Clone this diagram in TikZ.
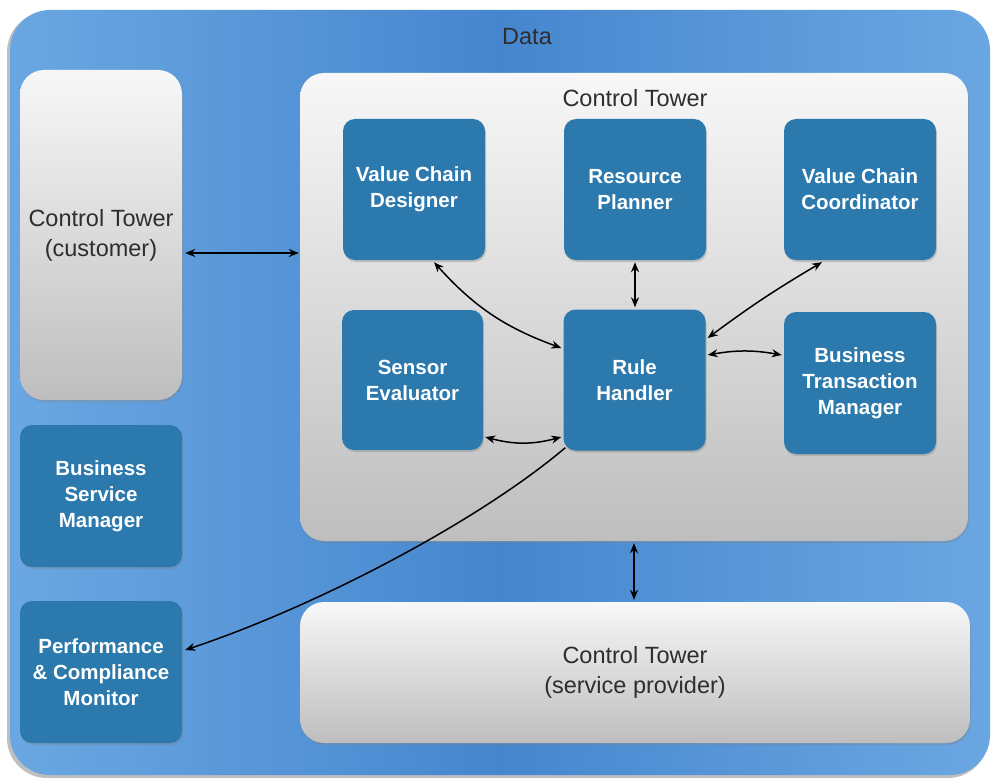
\documentclass[tikz,border=0pt]{standalone}
\usepackage{fontspec}
\setmainfont{Liberation Sans}
\usetikzlibrary{arrows.meta,shadows,calc}
\definecolor{boxblue}{HTML}{2B79AD}
\definecolor{outerL}{HTML}{6AA7E2}
\definecolor{outerM}{HTML}{4686CE}
\definecolor{ctgray}{HTML}{BEBEBE}
\definecolor{txtgray}{HTML}{2E2E2E}
\tikzset{
  bluebox/.style={rounded corners=12pt, fill=boxblue, text=white, align=center,
    font=\bfseries\fontsize{20.5}{26}\selectfont, inner sep=0pt,
    drop shadow={opacity=0.35, shadow xshift=1pt, shadow yshift=-2pt}},
  graybox/.style={rounded corners=24pt, top color=white!97!black, bottom color=ctgray,
    draw=none, text=txtgray, align=center, font=\fontsize{23.5}{30}\selectfont, inner sep=0pt,
    drop shadow={opacity=0.35, shadow xshift=1pt, shadow yshift=-2pt}},
  arr/.style={{Stealth[length=10pt,width=8pt]}-{Stealth[length=10pt,width=8pt]}, line width=1.5pt, black},
  arrone/.style={-{Stealth[length=10pt,width=8pt]}, line width=1.5pt, black},
  lbl/.style={text=txtgray, font=\fontsize{23.5}{28}\selectfont}
}
\begin{document}
\begin{tikzpicture}[x=1pt,y=-1pt]
\useasboundingbox (0,0) rectangle (992,778);
% outer data area
\fill[black!25, rounded corners=40pt] (7,12) rectangle (988,778);
\shade[rounded corners=40pt, left color=outerL, right color=outerL, middle color=outerM] (10,10) rectangle (990,775);
\node[lbl] (data) at (527,37) {Data};

% gray containers
\node[graybox, minimum width=162pt, minimum height=330pt] (cust) at (101,235) {Control Tower\\(customer)};
\node[graybox, minimum width=668pt, minimum height=468pt] (ct) at (634,307) {};
\node[lbl] (cttitle) at (635,98) {Control Tower};
\node[graybox, minimum width=670pt, minimum height=141pt] (sp) at (635,672.5) {Control Tower\\(service provider)};

% blue boxes
\node[bluebox, minimum width=142pt, minimum height=141pt] (vcd) at (414,189.5) {Value Chain\\Designer};
\node[bluebox, minimum width=142pt, minimum height=141pt] (rp) at (635,189.5) {Resource\\Planner};
\node[bluebox, minimum width=152pt, minimum height=141pt] (vcc) at (860,189.5) {Value Chain\\Coordinator};
\node[bluebox, minimum width=141pt, minimum height=140pt] (se) at (412.5,380) {Sensor\\Evaluator};
\node[bluebox, minimum width=142pt, minimum height=141pt] (rh) at (634.5,380) {Rule\\Handler};
\node[bluebox, minimum width=152pt, minimum height=142pt] (btm) at (860,383) {Business\\Transaction\\Manager};
\node[bluebox, minimum width=162pt, minimum height=142pt] (bsm) at (101,496) {Business\\Service\\Manager};
\node[bluebox, minimum width=162pt, minimum height=142pt] (pcm) at (101,672) {Performance\\\& Compliance\\Monitor};

% connectors
\draw[arr] ($(cust.east)+(3,18)$) -- ($(ct.west)+(-1,-54)$);
\draw[arr] ($(vcd.south)+(20,2)$) to[bend right=14] ($(rh.west)+(-2,-32)$);
\draw[arr] ($(rp.south)+(0,2)$) -- ($(rh.north)+(0.5,-2)$);
\draw[arr] ($(vcc.south)+(-38,2)$) to[bend right=3] ($(rh.east)+(2,-42)$);
\draw[arr] ($(rh.east)+(2,-25)$) to[bend left=10] ($(btm.west)+(-2,-28)$);
\draw[arr] ($(se.east)+(2,57)$) to[bend right=15] ($(rh.west)+(-2,57)$);
\draw[arrone] ($(rh.south west)+(2,-3)$) .. controls (480,520) and (320,605) .. ($(pcm.east)+(3,-22)$);
\draw[arr] ($(ct.south)+(0,2)$) -- ($(ct.south |- sp.north)+(0,-2)$);
\end{tikzpicture}
\end{document}
